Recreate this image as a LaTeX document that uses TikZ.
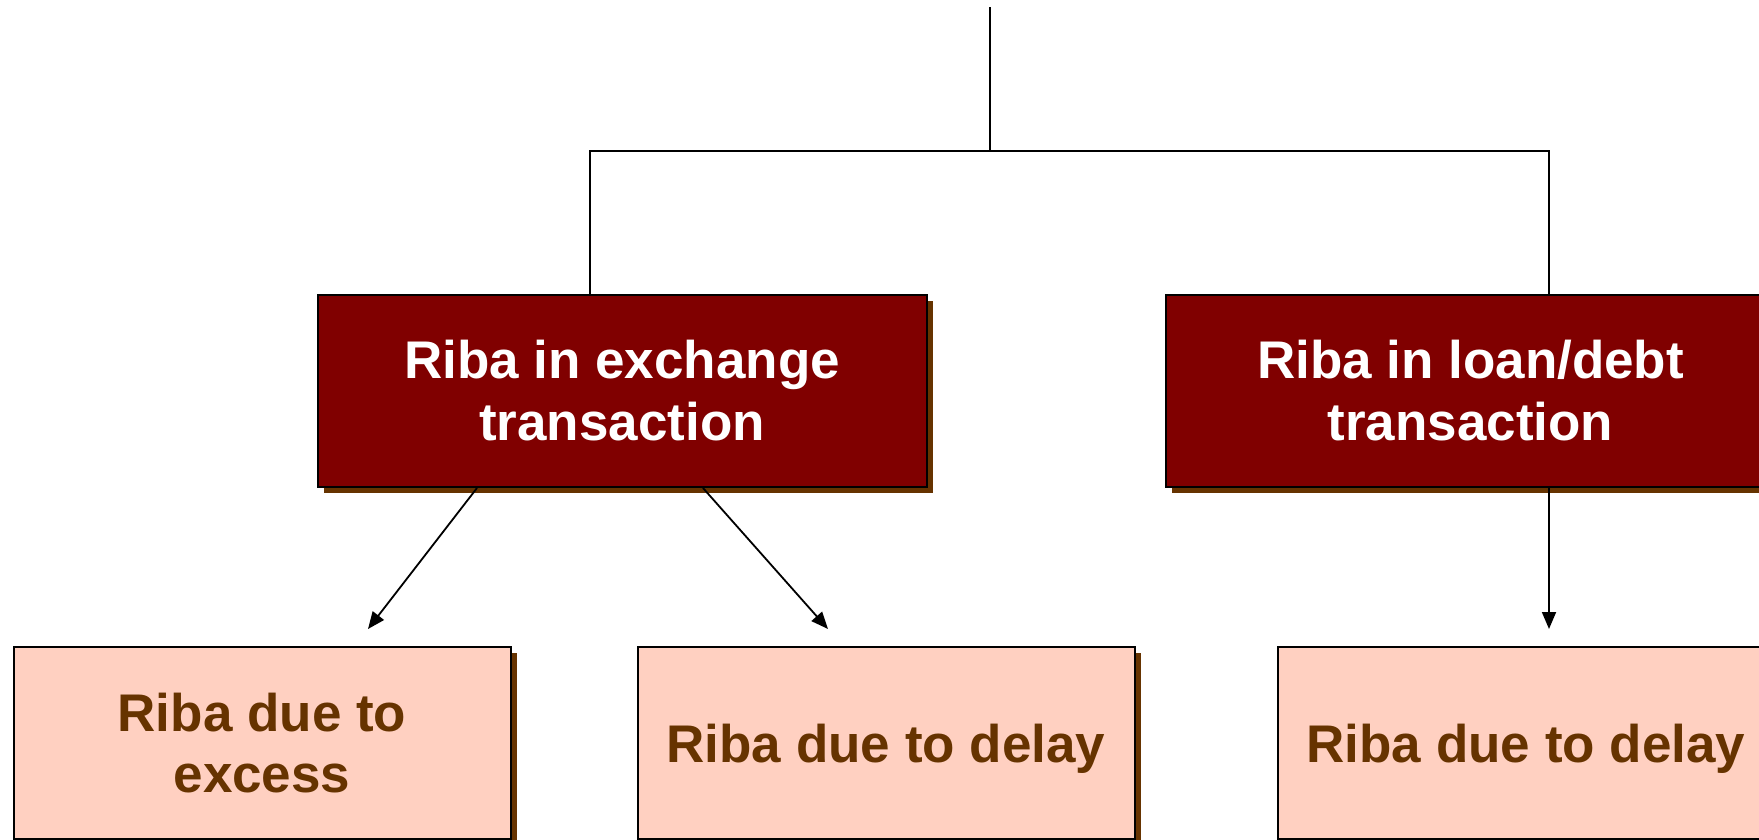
\documentclass[tikz,border=0pt]{standalone}
\usepackage{fontspec}
\setmainfont{Liberation Sans}
\usetikzlibrary{shadows,arrows.meta}
\definecolor{darkmaroon}{RGB}{128,0,0}
\definecolor{shadowbrown}{RGB}{102,51,0}
\definecolor{peach}{RGB}{255,208,193}
\tikzset{
  box/.style={draw=black, line width=2pt, minimum width=609pt, minimum height=192pt,
    align=center, inner sep=0pt,
    drop shadow={shadow xshift=6pt, shadow yshift=-6pt, fill=shadowbrown, opacity=1}},
  topbox/.style={box, fill=darkmaroon, text=white,
    font=\bfseries\fontsize{53}{62}\selectfont},
  leafbox/.style={box, fill=peach, text=shadowbrown, minimum width=497pt,
    font=\bfseries\fontsize{53}{61}\selectfont},
  link/.style={line width=2pt, draw=black},
  arrowlink/.style={line width=1.8pt, draw=black, -{Triangle[width=14pt,length=17pt]}}
}
\begin{document}
\begin{tikzpicture}[x=1pt, y=-1pt]
  \useasboundingbox (0,0) rectangle (1759,839);
  \clip (0,0) rectangle (1759,839);

  % category boxes
  \node[topbox] (exch) at (622,391) {Riba in exchange\\transaction};
  \node[topbox] (loan) at (1470.5,391) {Riba in loan/debt\\transaction};

  % leaf boxes
  \node[leafbox] (excess) at (262,743) {Riba due to\\excess};
  \node[leafbox, text depth=0pt] (delayA) at (886,743) {Riba due to delay};
  \node[leafbox, text depth=0pt] (delayB) at (1526,743) {Riba due to delay};

  % tree lines from the root
  \coordinate (root) at (990,7);
  \coordinate (bar) at (990,150.7);
  \draw[link] (root) -- (bar);
  \draw[link] ([xshift=-32pt]exch.north) |- (bar) -| ([xshift=78.5pt]loan.north);

  % arrow ends above the leaf boxes
  \coordinate (tipA) at (368,629);
  \coordinate (tipB) at (828,629);
  \coordinate (tipC) at (1549,629);
  \draw[arrowlink] ([xshift=-145pt]exch.south) -- (tipA);
  \draw[arrowlink] ([xshift=81pt]exch.south) -- (tipB);
  \draw[arrowlink] ([xshift=78.5pt]loan.south) -- (tipC);
\end{tikzpicture}
\end{document}
